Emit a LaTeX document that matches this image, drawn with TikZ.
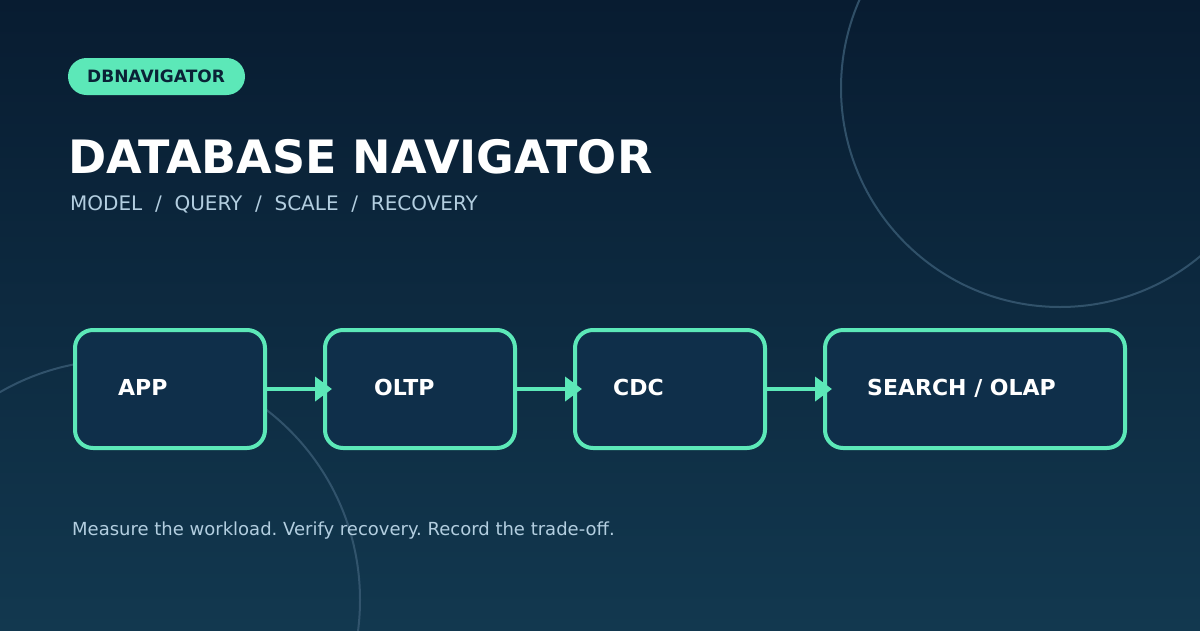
\documentclass[tikz,border=0pt]{standalone}
\usepackage{fontspec}
\setmainfont{DejaVu Sans}
\usetikzlibrary{arrows.meta}
\frenchspacing
\definecolor{bgtop}{HTML}{081C31}
\definecolor{bgbot}{HTML}{12384F}
\definecolor{mint}{HTML}{5CE8B8}
\definecolor{boxfill}{HTML}{0F2F4A}
\definecolor{ring}{HTML}{3A5C75}
\definecolor{subtext}{HTML}{B3CEE0}
\definecolor{badgetext}{HTML}{0A2236}
\pgfdeclarelayer{edgelayer}
\pgfdeclarelayer{nodelayer}
\pgfsetlayers{main,nodelayer,edgelayer}
\tikzstyle{none} = [inner sep=0pt]
\tikzstyle{stage} = [draw=mint, line width=4pt, fill=boxfill, rounded corners=18pt, minimum height=118pt, inner sep=0pt]
\tikzstyle{label} = [inner sep=0pt, anchor=base west, text=white, font=\bfseries\fontsize{22}{26}\selectfont]
\tikzstyle{flow} = [draw=mint, line width=4pt, -{Triangle[length=17pt,width=24pt]}, shorten >=-9pt]

\begin{document}
\begin{tikzpicture}[x=1pt, y=-1pt]
	\useasboundingbox (0, 0) rectangle (1200, 630);
	\shade [top color=bgtop, bottom color=bgbot] (0, 0) rectangle (1200, 630);
	\begin{scope}
		\clip (0, 0) rectangle (1200, 630);
		\draw [ring, line width=2pt, opacity=0.8] (1060, 88) circle (219);
		\draw [ring, line width=2pt, opacity=0.8] (120, 600) circle (240);
	\end{scope}
	\begin{pgfonlayer}{nodelayer}
		\node [style=none, fill=mint, rounded corners=18.5pt, minimum width=177pt, minimum height=37pt] (badge) at (156.5, 76.5) {};
		\node [style=none, anchor=base west, text=badgetext, font=\bfseries\fontsize{17}{20}\selectfont] (badgetxt) at (87, 82) {DBNAVIGATOR};
		\node [style=none, anchor=base west, text=white, font=\bfseries\fontsize{46}{54}\selectfont] (title) at (68, 173) {DATABASE NAVIGATOR};
		\node [style=none, anchor=base west, text=subtext, font=\fontsize{20}{24}\selectfont] (sub) at (70, 210) {MODEL \ / \ QUERY \ / \ SCALE \ / \ RECOVERY};
		\node [style=stage, minimum width=190pt] (app) at (170, 389) {};
		\node [style=stage, minimum width=190pt] (oltp) at (420, 389) {};
		\node [style=stage, minimum width=190pt] (cdc) at (670, 389) {};
		\node [style=stage, minimum width=300pt] (olap) at (975, 389) {};
		\node [style=label] (applbl) at (118, 395) {APP};
		\node [style=label] (oltplbl) at (374, 395) {OLTP};
		\node [style=label] (cdclbl) at (613, 395) {CDC};
		\node [style=label] (olaplbl) at (867, 395) {SEARCH / OLAP};
		\node [style=none, anchor=base west, text=subtext, font=\fontsize{18}{22}\selectfont] (foot) at (72, 535) {Measure the workload. Verify recovery. Record the trade-off.};
	\end{pgfonlayer}
	\begin{pgfonlayer}{edgelayer}
		\draw [style=flow] (app.east) to (oltp.west);
		\draw [style=flow] (oltp.east) to (cdc.west);
		\draw [style=flow] (cdc.east) to (olap.west);
	\end{pgfonlayer}
\end{tikzpicture}
\end{document}
